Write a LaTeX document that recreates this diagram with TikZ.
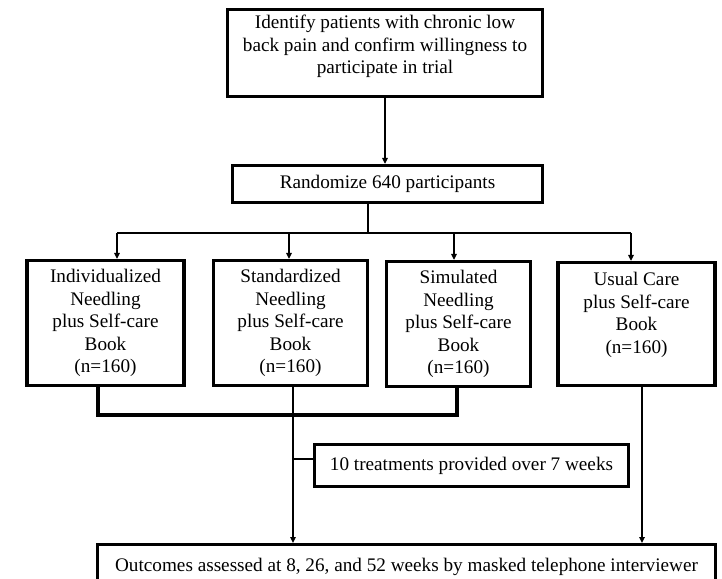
\documentclass[tikz,border=0pt]{standalone}
\usepackage{fontspec}
\setmainfont{Liberation Serif}
\usetikzlibrary{arrows.meta}
\begin{document}
\begin{tikzpicture}[x=1pt,y=-1pt,
  box/.style={draw, line width=3.2pt, align=center, inner sep=0pt,
    font=\fontsize{19.2pt}{22.5pt}\selectfont},
  conn/.style={line width=1.5pt},
  arr/.style={conn, -{Triangle[width=5.5pt,length=6pt]}},
  merge/.style={line width=3.2pt}]
\useasboundingbox (0,0) rectangle (722,578);
\node[box, minimum width=315pt, minimum height=87pt] (top) at (385,53)
  {Identify patients with chronic low\\back pain and confirm willingness to\\participate in trial\\[-5pt]\mbox{}};
\node[box, minimum width=310pt, minimum height=37pt] (rand) at (387.5,184)
  {Randomize 640 participants};
\node[box, minimum width=157pt, minimum height=125pt] (b1) at (105.5,323)
  {Individualized\\Needling\\plus Self-care\\Book\\(n=160)};
\node[box, minimum width=154pt, minimum height=125pt] (b2) at (290.5,323)
  {Standardized\\Needling\\plus Self-care\\Book\\(n=160)};
\node[box, minimum width=144pt, minimum height=125pt] (b3) at (458.5,324)
  {Simulated\\Needling\\plus Self-care\\Book\\(n=160)};
\node[box, minimum width=157pt, minimum height=123pt] (b4) at (636.5,324)
  {Usual Care\\plus Self-care\\Book\\(n=160)\\\mbox{}};
\node[box, minimum width=314pt, minimum height=42pt] (treat) at (471.5,465.5)
  {10 treatments provided over 7 weeks};
\node[box, minimum width=618pt, minimum height=44pt, anchor=north] (out) at (406.5,543)
  {Outcomes assessed at 8, 26, and 52 weeks by masked telephone interviewer};

\coordinate (split) at (368,233);
\coordinate (jl) at (117,233);
\coordinate (jr) at (631,233);
\coordinate (m1) at (98,415);
\coordinate (m3) at (457,415);
\coordinate (c2) at (293,459);
\coordinate (c4) at (642,0);

\draw[arr] (top.south -| 385,0) -- (rand.north -| 385,0);
\draw[conn] (rand.south -| split) -- (split);
\draw[conn] (jl) -- (jr);
\draw[arr] (jl) -- (b1.north -| jl);
\draw[arr] (289,233) -- (b2.north -| 289,0);
\draw[arr] (454,233) -- (b3.north -| 454,0);
\draw[arr] (jr) -- (b4.north -| jr);
\draw[merge] (b1.south -| m1) -- (m1) -- (m3) -- (b3.south -| m3);
\draw[arr] (b2.south -| c2) -- (out.north -| c2);
\draw[conn] (c2) -- (c2 -| treat.west);
\draw[arr] (b4.south -| c4) -- (out.north -| c4);
\end{tikzpicture}
\end{document}
